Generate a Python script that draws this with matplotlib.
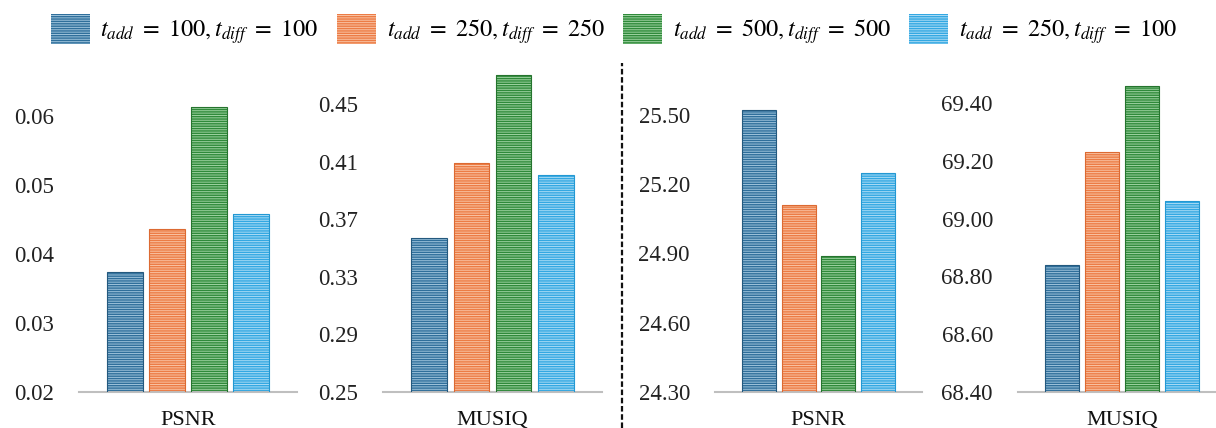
import matplotlib
matplotlib.use("Agg")
import matplotlib.pyplot as plt
from matplotlib.lines import Line2D
import numpy as np


SETTINGS = [
    r"$t_{add}\ =\ 100, t_{diff}\ =\ 100$",
    r"$t_{add}\ =\ 250, t_{diff}\ =\ 250$",
    r"$t_{add}\ =\ 500, t_{diff}\ =\ 500$",
    r"$t_{add}\ =\ 250, t_{diff}\ =\ 100$",
]

METRICS = ["PSNR", "MUSIQ", "PSNR", "MUSIQ"]

# left group
psnr_left = [0.0374, 0.0436, 0.0613, 0.0458]
musiq_left = [0.357, 0.409, 0.470, 0.401]

# right group
psnr_right = [25.52, 25.11, 24.89, 25.25]
musiq_right = [68.84, 69.23, 69.46, 69.06]

psnr_left_ticks = [0.02, 0.03, 0.04, 0.05, 0.06]
musiq_left_ticks = [0.25, 0.29, 0.33, 0.37, 0.41, 0.45]
psnr_right_ticks = [24.30, 24.60, 24.90, 25.20, 25.50]
musiq_right_ticks = [68.40, 68.60, 68.80, 69.00, 69.20, 69.40]

FACE = ["#2f6f9b", "#ec7c45", "#2f8a3a", "#33a8e2"]
STRIPE = ["#9fc4dc", "#f9c3a4", "#9fd3a2", "#acdcf5"]
BORDER = ["#24597e", "#dc6a32", "#25742e", "#2398d2"]

W, H = 1216, 428


def striped_bars(ax, values, ymin):
    x = np.arange(len(values))
    heights = np.array(values) - ymin
    for i in range(len(values)):
        ax.bar(x[i], heights[i], bottom=ymin, width=0.85,
               color=FACE[i], edgecolor=STRIPE[i], linewidth=0,
               hatch="-------", zorder=2)
        ax.bar(x[i], heights[i], bottom=ymin, width=0.85,
               fill=False, edgecolor=BORDER[i], linewidth=0.8, zorder=3)


def panel(fig, left_px, width_px, values, ticks, fmt, px_per_unit, label):
    bottom_px = 392
    top_px = 70
    ax = fig.add_axes([left_px / W, (H - bottom_px) / H,
                       width_px / W, (bottom_px - top_px) / H])
    ymin = ticks[0]
    striped_bars(ax, values, ymin)
    ax.set_ylim(ymin, ymin + (bottom_px - top_px) / px_per_unit)
    ax.set_xlim(-1.1, 4.1)
    ax.set_yticks(ticks)
    ax.set_yticklabels([fmt.format(t) for t in ticks])
    ax.set_xticks([1.5])
    ax.set_xticklabels([label])
    ax.tick_params(axis="y", length=0, pad=18, labelsize=16.5,
                   colors="#222222")
    ax.tick_params(axis="x", length=0, pad=14, labelsize=16,
                   colors="#111111")
    for s in ["left", "right", "top"]:
        ax.spines[s].set_visible(False)
    ax.spines["bottom"].set_color("#bfbfbf")
    ax.spines["bottom"].set_linewidth(1.5)
    ax.patch.set_alpha(0)
    return ax


def main():
    plt.rcParams["font.family"] = ["Liberation Serif", "DejaVu Serif"]
    plt.rcParams["mathtext.fontset"] = "stix"
    plt.rcParams["hatch.linewidth"] = 0.7

    fig = plt.figure(figsize=(W / 100, H / 100), dpi=100)
    fig.patch.set_facecolor("white")

    panel(fig, 79, 218, psnr_left, psnr_left_ticks, "{:.2f}",
          6900, METRICS[0])
    panel(fig, 383, 219, musiq_left, musiq_left_ticks, "{:.2f}",
          1440, METRICS[1])
    panel(fig, 715, 207, psnr_right, psnr_right_ticks, "{:.2f}",
          231, METRICS[2])
    panel(fig, 1018, 208, musiq_right, musiq_right_ticks, "{:.2f}",
          289, METRICS[3])

    # divider between the two groups
    fig.add_artist(Line2D([622 / W, 622 / W], [0, (H - 63) / H],
                          color="#111111", linewidth=1.6,
                          linestyle=(0, (2.5, 1.2))))

    handles = []
    for i in range(4):
        h = plt.Rectangle((0, 0), 1, 1, facecolor=FACE[i],
                          edgecolor=STRIPE[i], linewidth=0,
                          hatch="-------")
        handles.append(h)

    fig.legend(handles, SETTINGS, loc="center",
               bbox_to_anchor=(614 / W, (H - 30) / H), ncol=4,
               frameon=False, fontsize=17.5, handlelength=1.6,
               handleheight=1.5, handletextpad=0.45,
               columnspacing=0.75, borderpad=0)

    fig.savefig("out.png", dpi=100, facecolor="white")
    plt.close(fig)


if __name__ == "__main__":
    main()
